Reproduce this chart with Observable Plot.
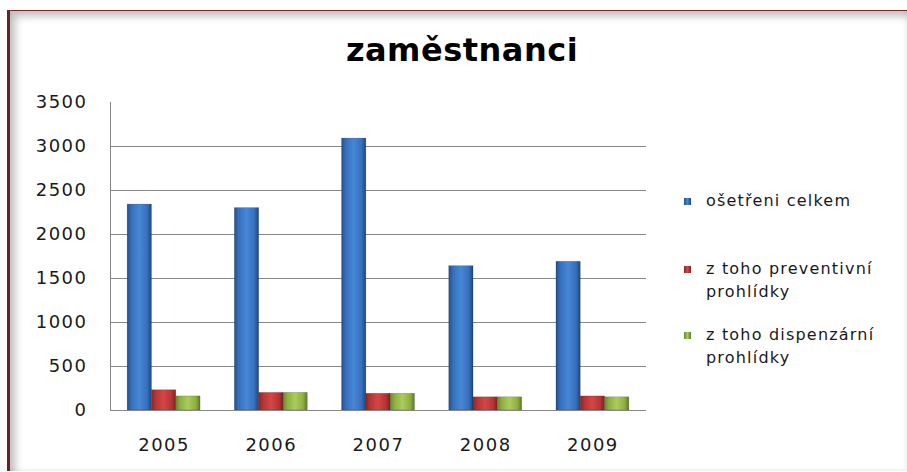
<!DOCTYPE html>
<html>
<head>
<meta charset="utf-8">
<script src="https://cdn.jsdelivr.net/npm/d3@7"></script>
<script src="https://cdn.jsdelivr.net/npm/@observablehq/plot@0.6"></script>
<style>
  html, body { margin: 0; padding: 0; background: #fff; }
  #page { position: relative; width: 907px; height: 472px; overflow: hidden; background: #fff; font-family: "DejaVu Sans", sans-serif; }
  #frame { position: absolute; left: 7px; top: 10px; width: 897px; height: 460px;
    border-left: 3px solid #6b2222; border-top: 1.5px solid #7a2a2a;
    box-shadow: inset 7px 7px 9px -2px rgba(0,0,0,0.26), inset -3px -3px 4px -2px rgba(0,0,0,0.08); }
  #title { position: absolute; left: 0; width: 924px; top: 31px; text-align: center;
    font-family: "DejaVu Sans", sans-serif; font-weight: bold; font-size: 32px; letter-spacing: 0.5px; color: #000; }
  #chart { position: absolute; left: 0; top: 80px; }
  .lg { position: absolute; left: 684px; font-size: 16px; letter-spacing: 1.2px; color: #1a1a1a; line-height: 22.7px; }
  .lg .sw { position: absolute; left: 0; top: 8px; width: 7px; height: 7px; }
  .lg .tx { position: absolute; left: 22px; top: 0; white-space: nowrap; }
</style>
</head>
<body>
<div id="page">
  <div id="frame"></div>
  <div id="title">zaměstnanci</div>
  <div id="chart"></div>
  <div id="legend"></div>
</div>
<script>
// ---- data ----
const years = ["2005", "2006", "2007", "2008", "2009"];
const seriesNames = ["ošetřeni celkem", "z toho preventivní prohlídky", "z toho dispenzární prohlídky"];
const legendLines = [["ošetřeni celkem"], ["z toho preventivní", "prohlídky"], ["z toho dispenzární", "prohlídky"]];
const treatedTotal = [2340, 2300, 3090, 1640, 1690];
const preventive = [230, 200, 190, 150, 160];
const dispensary = [160, 200, 190, 150, 150];
const yTicks = [0, 500, 1000, 1500, 2000, 2500, 3000, 3500];
const gridTicks = [500, 1000, 1500, 2000, 2500, 3000];

const seriesValues = [treatedTotal, preventive, dispensary];
const gradIds = ["gBlue", "gRed", "gGreen"];
const gradStops = [
  ["#234f8c", "#3670bd", "#4787d6", "#3670bd", "#1f4679"],
  ["#8a2726", "#b63534", "#d04846", "#b63534", "#7e2221"],
  ["#6a8630", "#8eb042", "#a9cc5c", "#8eb042", "#5f7a2a"]
];

const rows = [];
seriesValues.forEach((vals, si) => vals.forEach((v, yi) => rows.push({year: years[yi], series: si, value: v})));

// ---- layout ----
const W = 660, H = 392, mL = 110, mR = 14, mT = 22, mB = 62;
const pIn = 0.32, pOut = 0.16;
const step = (W - mL - mR) / (years.length - pIn + 2 * pOut);
const bw = step * (1 - pIn) / 3;

const barMarks = seriesValues.map((vals, si) =>
  Plot.barY(rows.filter(d => d.series === si), {
    x: "year", y: "value",
    fill: `url(#${gradIds[si]})`,
    insetLeft: bw, insetRight: bw, dx: (si - 1) * bw,
    stroke: "rgba(0,0,0,0.25)", strokeWidth: 0.6
  })
);

const svg = Plot.plot({
  width: W, height: H,
  marginLeft: mL, marginRight: mR, marginTop: mT, marginBottom: mB,
  style: {fontFamily: "DejaVu Sans, sans-serif", fontSize: "18px", color: "#1a1a1a", background: "transparent", letterSpacing: "1.5px"},
  x: {domain: years, paddingInner: pIn, paddingOuter: pOut, round: false, label: null},
  y: {domain: [0, 3500], label: null},
  marks: [
    Plot.ruleY(gridTicks, {stroke: "#878787", strokeWidth: 1, strokeOpacity: 1}),
    Plot.frame({anchor: "left", stroke: "#878787", strokeOpacity: 1}),
    ...barMarks,
    Plot.ruleY([0], {stroke: "#878787", strokeWidth: 1}),
    Plot.axisY({ticks: yTicks, tickFormat: d3.format("d"), tickSize: 0, tickPadding: 23, label: null}),
    Plot.axisX({tickSize: 0, tickPadding: 28, label: null})
  ]
});

// gradients
const ns = "http://www.w3.org/2000/svg";
const defs = document.createElementNS(ns, "defs");
gradIds.forEach((id, i) => {
  const g = document.createElementNS(ns, "linearGradient");
  g.setAttribute("id", id);
  g.setAttribute("x1", "0"); g.setAttribute("x2", "1"); g.setAttribute("y1", "0"); g.setAttribute("y2", "0");
  const offs = [0, 0.18, 0.5, 0.82, 1];
  gradStops[i].forEach((c, k) => {
    const s = document.createElementNS(ns, "stop");
    s.setAttribute("offset", offs[k]);
    s.setAttribute("stop-color", c);
    g.appendChild(s);
  });
  defs.appendChild(g);
});
svg.insertBefore(defs, svg.firstChild);
document.getElementById("chart").appendChild(svg);

// legend
const legendTops = [190, 258, 324];
const legend = document.getElementById("legend");
legendLines.forEach((lines, i) => {
  const item = document.createElement("div");
  item.className = "lg";
  item.style.top = legendTops[i] + "px";
  const sw = document.createElement("div");
  sw.className = "sw";
  sw.style.background = `linear-gradient(to right, ${gradStops[i][0]}, ${gradStops[i][2]}, ${gradStops[i][4]})`;
  item.appendChild(sw);
  const tx = document.createElement("div");
  tx.className = "tx";
  tx.innerHTML = lines.join("<br>");
  item.appendChild(tx);
  legend.appendChild(item);
});
</script>
</body>
</html>
